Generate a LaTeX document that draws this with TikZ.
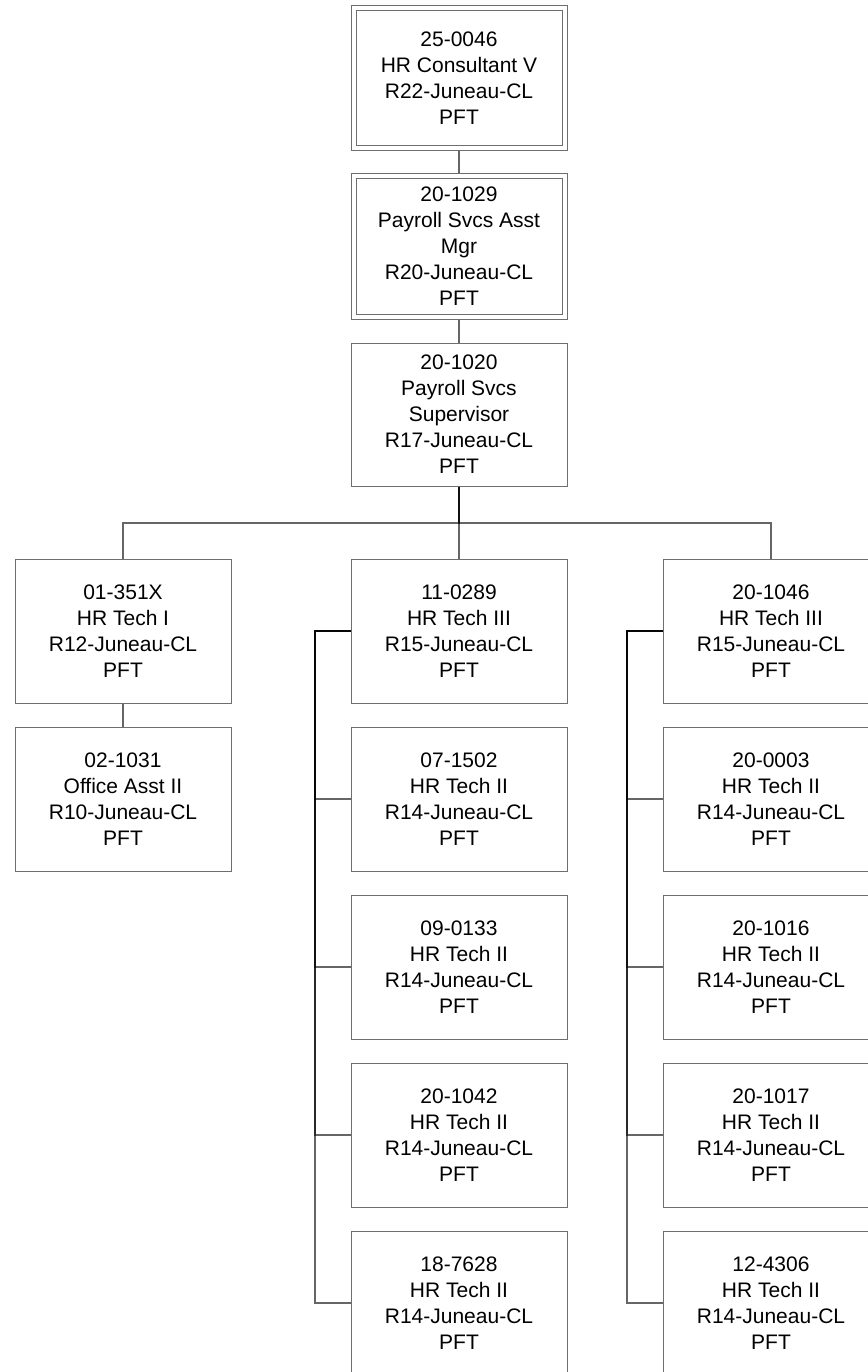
\documentclass[tikz,border=0pt]{standalone}
\usepackage{fontspec}
\setmainfont{Liberation Sans}
\definecolor{boxgray}{HTML}{6E6E6E}
\begin{document}
\begin{tikzpicture}[x=1pt,y=-1pt,
  box/.style={draw=boxgray, line width=1pt, fill=white, minimum width=216pt, minimum height=144pt,
    inner sep=0pt, align=center, font=\fontsize{21}{26}\selectfont},
  dbox/.style={box, double=white, double distance=4pt, minimum width=211pt, minimum height=140pt, outer sep=3pt},
  conn/.style={draw=black, draw opacity=0.6, line width=1.1pt}]
\useasboundingbox (0,0) rectangle (867,1372);
% top chain
\node[dbox] (b1) at (459,78.5) {25-0046\\HR Consultant V\\R22-Juneau-CL\\PFT};
\node[dbox] (b2) at (459,246.5) {20-1029\\Payroll Svcs Asst\\Mgr\\R20-Juneau-CL\\PFT};
\node[box, minimum height=143pt] (b3) at (459,414.5) {20-1020\\Payroll Svcs\\Supervisor\\R17-Juneau-CL\\PFT};
% left column
\node[box] (l1) at (123,631) {01-351X\\HR Tech I\\R12-Juneau-CL\\PFT};
\node[box] (l2) at (123,799) {02-1031\\Office Asst II\\R10-Juneau-CL\\PFT};
% middle column
\node[box] (m1) at (459,631) {11-0289\\HR Tech III\\R15-Juneau-CL\\PFT};
\node[box] (m2) at (459,799) {07-1502\\HR Tech II\\R14-Juneau-CL\\PFT};
\node[box] (m3) at (459,967) {09-0133\\HR Tech II\\R14-Juneau-CL\\PFT};
\node[box] (m4) at (459,1135) {20-1042\\HR Tech II\\R14-Juneau-CL\\PFT};
\node[box] (m5) at (459,1303) {18-7628\\HR Tech II\\R14-Juneau-CL\\PFT};
% right column
\node[box] (r1) at (771,631) {20-1046\\HR Tech III\\R15-Juneau-CL\\PFT};
\node[box] (r2) at (771,799) {20-0003\\HR Tech II\\R14-Juneau-CL\\PFT};
\node[box] (r3) at (771,967) {20-1016\\HR Tech II\\R14-Juneau-CL\\PFT};
\node[box] (r4) at (771,1135) {20-1017\\HR Tech II\\R14-Juneau-CL\\PFT};
\node[box] (r5) at (771,1303) {12-4306\\HR Tech II\\R14-Juneau-CL\\PFT};
% helper coordinates
\coordinate (bus) at (459,523);
\coordinate (mt) at (315,631);
\coordinate (rt) at (627,631);
% connectors
\draw[conn] (b1.south) -- (b2.north);
\draw[conn] (b2.south) -- (b3.north);
\foreach \c in {l1,m1,r1} {
  \draw[conn] (b3.south) -- (bus) -| (\c.north);
}
\draw[conn] (l1.south) -- (l2.north);
\foreach \c in {m2,m3,m4,m5} {
  \draw[conn] (m1.west) -- (mt) |- (\c.west);
}
\foreach \c in {r2,r3,r4,r5} {
  \draw[conn] (r1.west) -- (rt) |- (\c.west);
}
\end{tikzpicture}
\end{document}
